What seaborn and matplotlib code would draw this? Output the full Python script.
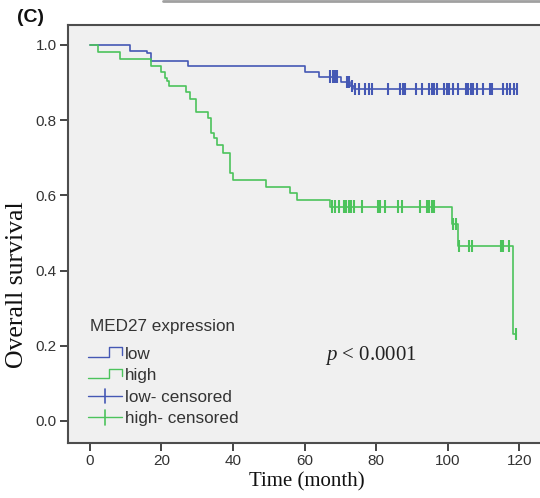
"""Kaplan-Meier curves for MED27 expression (low vs high)."""

import matplotlib
matplotlib.use("Agg")
import matplotlib.pyplot as plt
from matplotlib.legend_handler import HandlerBase
from matplotlib.lines import Line2D
import numpy as np
import pandas as pd
import seaborn as sns

# step curves (time in months, survival after the drop)
times_low = [0, 11.2, 16.0, 17.0, 27.3, 60.1, 64.1, 70.1, 72.7, 73.7, 119.4]
surv_low = [1.0, 0.985, 0.978, 0.958, 0.944, 0.929, 0.916, 0.902, 0.891, 0.883, 0.883]

times_high = [0, 2.3, 8.4, 17.0, 19.9, 21.0, 21.6, 22.2, 27.0, 28.0, 29.8, 33.1, 34.0,
              34.7, 35.4, 37.3, 39.3, 39.9, 49.1, 55.9, 58.0, 67.1, 101.2, 103.0, 118.2, 119.2]
surv_high = [1.0, 0.980, 0.962, 0.944, 0.929, 0.911, 0.905, 0.892, 0.876, 0.856, 0.821, 0.805, 0.767,
             0.752, 0.734, 0.712, 0.659, 0.641, 0.623, 0.606, 0.588, 0.570, 0.524, 0.465, 0.231, 0.231]

# censoring times
cens_low = [67.1, 67.9, 68.6, 69.2, 71.8, 72.3, 73.2, 74.1, 75.1, 76.9, 77.9, 78.8, 83.2, 86.7,
            87.5, 88.1, 91.2, 92.8, 94.9, 95.6, 96.2, 97.0, 99.0, 99.8, 100.5, 101.4, 103.0,
            105.2, 105.8, 106.5, 107.2, 108.2, 110.0, 111.9, 112.4, 115.6, 116.6, 117.5,
            118.4, 119.4]
cens_high = [67.6, 68.5, 69.5, 70.9, 71.6, 72.3, 73.0, 73.8, 76.0, 80.4, 81.1, 82.5, 86.2,
             87.2, 92.3, 94.2, 94.9, 95.6, 96.2, 101.6, 102.3, 103.3, 106.1, 106.9, 114.9,
             115.6, 117.0, 119.2]

groups = ["low", "high"]
colors = {"low": "#4558b4", "high": "#4cc35c"}


def _surv_at(times, surv, t):
    idx = np.searchsorted(times, t, side="right") - 1
    return surv[idx]


class StepHandler(HandlerBase):
    def create_artists(self, legend, orig_handle, xdescent, ydescent, width, height, fontsize, trans):
        x0, y0 = -xdescent, -ydescent
        lo, hi = y0 + 0.2 * height, y0 + 1.0 * height
        xs = [x0, x0 + 0.62 * width, x0 + 0.62 * width, x0 + width, x0 + width]
        ys = [lo, lo, hi, hi, lo + 0.15 * height]
        line = Line2D(xs, ys, color=orig_handle.get_color(), lw=1.0)
        line.set_transform(trans)
        return [line]


class CensorHandler(HandlerBase):
    def create_artists(self, legend, orig_handle, xdescent, ydescent, width, height, fontsize, trans):
        x0, y0 = -xdescent, -ydescent
        ym = y0 + 0.5 * height
        h = Line2D([x0, x0 + width], [ym, ym], color=orig_handle.get_color(), lw=1.0)
        v = Line2D([x0 + 0.5 * width] * 2, [ym - 0.6 * height, ym + 0.6 * height],
                   color=orig_handle.get_color(), lw=1.2)
        h.set_transform(trans)
        v.set_transform(trans)
        return [h, v]


class StepProxy(Line2D):
    pass


class CensorProxy(Line2D):
    pass


def main() -> None:
    sns.set_theme(style="ticks")
    plt.rcParams["font.family"] = ["Liberation Sans", "DejaVu Sans"]
    plt.rcParams["mathtext.fontset"] = "custom"
    plt.rcParams["mathtext.it"] = "Liberation Serif:italic"
    plt.rcParams["mathtext.rm"] = "Liberation Serif"

    curve_df = pd.concat([
        pd.DataFrame({"time": times_low, "surv": surv_low, "group": "low"}),
        pd.DataFrame({"time": times_high, "surv": surv_high, "group": "high"}),
    ], ignore_index=True)

    cens_df = pd.concat([
        pd.DataFrame({"time": cens_low,
                      "surv": [_surv_at(times_low, surv_low, t) for t in cens_low],
                      "group": "low"}),
        pd.DataFrame({"time": cens_high,
                      "surv": [_surv_at(times_high, surv_high, t) for t in cens_high],
                      "group": "high"}),
    ], ignore_index=True)

    fig = plt.figure(figsize=(5.4, 4.98), dpi=100)
    ax = fig.add_axes([68 / 540, 1 - 443 / 498, 477 / 540, 418 / 498])
    ax.set_facecolor("#f0f0f0")

    sns.lineplot(data=curve_df, x="time", y="surv", hue="group", hue_order=groups,
                 palette=colors, drawstyle="steps-post", estimator=None, sort=False,
                 linewidth=1.2, legend=False, ax=ax)
    sns.scatterplot(data=cens_df, x="time", y="surv", hue="group", hue_order=groups,
                    palette=colors, marker="|", s=80, linewidth=1.5, legend=False, ax=ax)

    ax.set_xlim(-6.1, 127.2)
    ax.set_ylim(-0.0585, 1.053)
    ax.set_xticks([0, 20, 40, 60, 80, 100, 120])
    ax.set_yticks([0.0, 0.2, 0.4, 0.6, 0.8, 1.0])
    ax.set_yticklabels(["0.0", "0.2", "0.4", "0.6", "0.8", "1.0"])
    ax.tick_params(axis="both", labelsize=11, colors="#444444", labelcolor="#333333",
                   length=6, width=1.4, pad=2)
    for sp in ax.spines.values():
        sp.set_color("#4d4d4d")
        sp.set_linewidth(1.5)

    ax.set_xlabel("Time (month)", fontsize=15, family=["Liberation Serif"], color="#111111",
                  va="center")
    ax.set_ylabel("Overall survival", fontsize=18.5, family=["Liberation Serif"], color="#111111",
                  va="center")
    ax.xaxis.set_label_coords(0.5, -0.093)
    ax.yaxis.set_label_coords(-0.107, 0.378)

    ax.text(65.8, 0.173, "$p$ < 0.0001", fontsize=15, family=["Liberation Serif"],
            color="#222222", ha="left", va="center")

    # legend title placed as its own text, entries below it
    ax.text((90 - 68) / 477, (443 - 327) / 418, "MED27 expression", transform=ax.transAxes,
            fontsize=12.3, color="#333333", ha="left", va="center")
    handles = [
        StepProxy([], [], color=colors["low"]),
        StepProxy([], [], color=colors["high"]),
        CensorProxy([], [], color=colors["low"]),
        CensorProxy([], [], color=colors["high"]),
    ]
    labels = ["low", "high", "low- censored", "high- censored"]
    leg = ax.legend(handles, labels, loc="upper left",
                    bbox_to_anchor=((88 - 68) / 477, (443 - 347) / 418), frameon=False,
                    fontsize=12.3, handlelength=2.0, handletextpad=0.18,
                    labelspacing=0.38, borderpad=0, borderaxespad=0,
                    handler_map={StepProxy: StepHandler(), CensorProxy: CensorHandler()})
    for txt in leg.get_texts():
        txt.set_color("#333333")

    fig.text(17 / 540, 1 - 17 / 498, "(C)", fontsize=14, fontweight="bold",
             ha="left", va="center", color="#111111")
    fig.add_artist(Line2D([163 / 540, 1.0], [1 - 1 / 498] * 2, transform=fig.transFigure,
                          color="#a0a0a0", lw=2))

    fig.savefig("out.png", dpi=100)
    plt.close(fig)


if __name__ == "__main__":
    main()
